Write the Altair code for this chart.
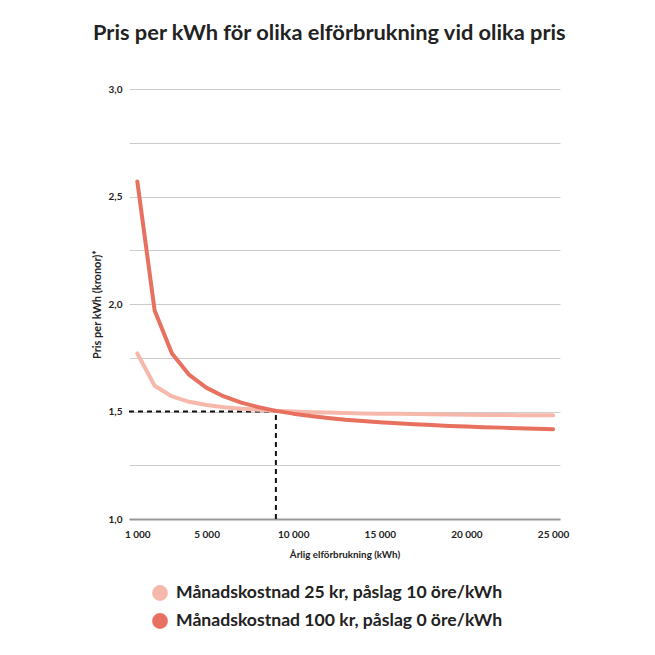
import altair as alt
import pandas as pd

# Annual consumption (kWh)
forbrukning = [1000, 2000, 3000, 4000, 5000, 6000, 7000, 8000, 9000, 10000,
               11000, 12000, 13000, 14000, 15000, 16000, 17000, 18000, 19000,
               20000, 21000, 22000, 23000, 24000, 25000]

# Price per kWh (kronor) for each offer
pris_25kr = [1.770, 1.620, 1.570, 1.545, 1.530, 1.520, 1.513, 1.508, 1.503,
             1.500, 1.497, 1.495, 1.493, 1.491, 1.490, 1.489, 1.488, 1.487,
             1.486, 1.485, 1.484, 1.484, 1.483, 1.483, 1.482]
pris_100kr = [2.570, 1.970, 1.770, 1.670, 1.610, 1.570, 1.541, 1.520, 1.503,
              1.490, 1.479, 1.470, 1.462, 1.456, 1.450, 1.445, 1.441, 1.437,
              1.433, 1.430, 1.427, 1.425, 1.422, 1.420, 1.418]

serier = ["Månadskostnad 25 kr, påslag 10 öre/kWh",
          "Månadskostnad 100 kr, påslag 0 öre/kWh"]
farger = ["#F7B8AC", "#E8705F"]

# Break-even reference point
brytpunkt_x = 9000
brytpunkt_y = 1.5

x_ticks = [1000, 5000, 10000, 15000, 20000, 25000]
y_ticks = [1.0, 1.25, 1.5, 1.75, 2.0, 2.25, 2.5, 2.75, 3.0]
x_domain = [520, 25400]
y_domain = [1.0, 3.0]

df = pd.DataFrame({
    "x": forbrukning * 2,
    "y": pris_25kr + pris_100kr,
    "serie": [serier[0]] * len(forbrukning) + [serier[1]] * len(forbrukning),
})

FONT = "Lato"
INK = "#222222"

x_enc = alt.X("x:Q", scale=alt.Scale(domain=x_domain, nice=False, zero=False),
              axis=alt.Axis(values=x_ticks, title="Årlig elförbrukning (kWh)",
                            labelExpr="replace(format(datum.value, ','), ',', ' ')",
                            grid=False, ticks=False, domain=True,
                            domainColor="#999999", domainWidth=2,
                            labelPadding=10, labelFontSize=10, labelFontWeight="bold",
                            labelColor=INK, titleFontSize=9.8,
                            titleFontWeight="bold", titleColor=INK,
                            titlePadding=10, labelFlush=False))
y_enc = alt.Y("y:Q", scale=alt.Scale(domain=y_domain, nice=False, zero=False),
              axis=alt.Axis(values=y_ticks, title="Pris per kWh (kronor)*",
                            labelExpr="datum.value % 0.5 == 0 ? replace(format(datum.value, '.1f'), '.', ',') : ''",
                            grid=True, gridColor="#CCCCCC", gridWidth=1,
                            ticks=False, domain=False, labelPadding=7,
                            labelFontSize=10, labelFontWeight="bold",
                            labelColor=INK, titleFontSize=11,
                            titleFontWeight="bold", titleColor=INK,
                            titlePadding=6))

color_scale = alt.Scale(domain=serier, range=farger)

lines = alt.Chart(df).mark_line(strokeWidth=4, strokeCap="round", strokeJoin="round").encode(
    x=x_enc,
    y=y_enc,
    color=alt.Color("serie:N", sort=serier, scale=color_scale, legend=None),
    detail="serie:N",
)

h_rule_df = pd.DataFrame({"x": [x_domain[0]], "x2": [brytpunkt_x], "y": [brytpunkt_y]})
v_rule_df = pd.DataFrame({"x": [brytpunkt_x], "y": [y_domain[0]], "y2": [brytpunkt_y]})

h_rule = alt.Chart(h_rule_df).mark_rule(color="#111111", strokeWidth=2, strokeDash=[5, 4]).encode(
    x="x:Q", x2="x2:Q", y="y:Q")
v_rule = alt.Chart(v_rule_df).mark_rule(color="#111111", strokeWidth=2, strokeDash=[5, 4]).encode(
    x="x:Q", y="y:Q", y2="y2:Q")

# Legend below the plot: filled circles with bold labels, one row per series
legend_df = pd.DataFrame({"serie": serier})
legend_layers = []
for i, namn in enumerate(serier):
    rad = alt.Chart(legend_df).transform_filter(alt.datum.serie == namn)
    rad_y = 504 + 28 * i
    legend_layers.append(rad.mark_circle(size=250, opacity=1).encode(
        x=alt.value(31), y=alt.value(rad_y),
        color=alt.Color("serie:N", scale=color_scale, legend=None),
    ))
    legend_layers.append(rad.mark_text(
        align="left", baseline="middle", fontSize=17.6, fontWeight="bold",
        color=INK, font=FONT,
    ).encode(x=alt.value(47), y=alt.value(rad_y), text="serie:N"))

chart = alt.layer(h_rule, v_rule, lines, *legend_layers).properties(
    width=431, height=430,
    autosize=alt.AutoSizeParams(type="none"),
    padding={"left": 129, "top": 89, "right": 95, "bottom": 136},
    title=alt.TitleParams("Pris per kWh för olika elförbrukning vid olika pris",
                          anchor="start", frame="group", dx=-36, offset=39,
                          fontSize=21.8, fontWeight="bold", color=INK, font=FONT),
).configure(
    font=FONT,
    view=alt.ViewConfig(stroke=None),
    axis=alt.AxisConfig(labelFont=FONT, titleFont=FONT),
)

chart.save("out.html", embed_options={"renderer": "svg", "actions": False})
